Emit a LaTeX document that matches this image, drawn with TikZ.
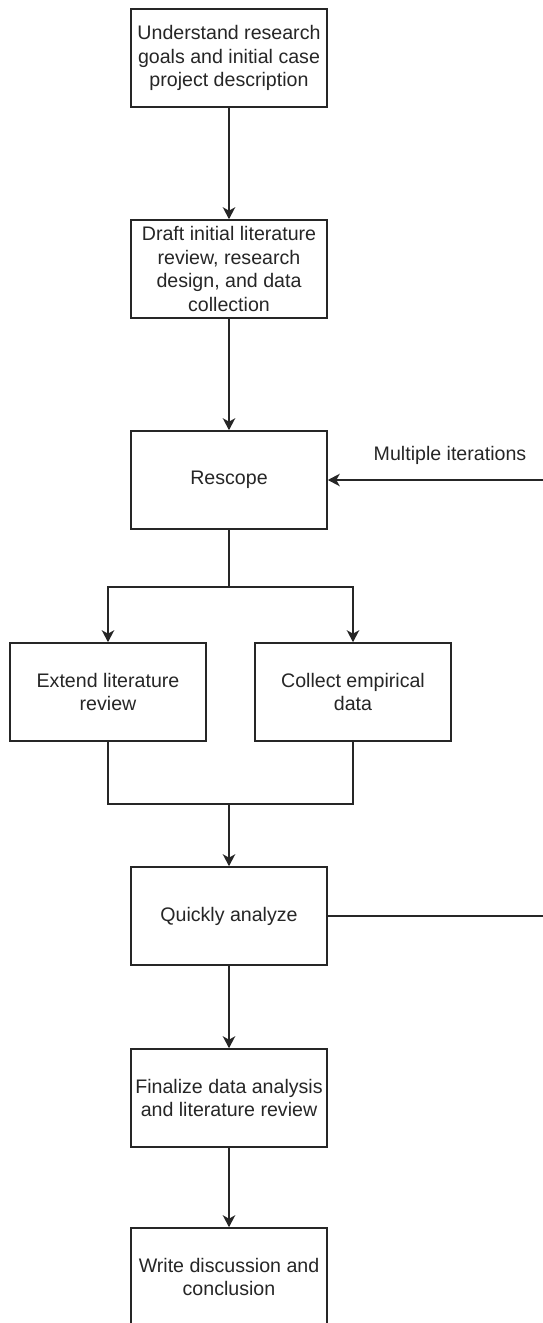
\documentclass[tikz,border=0pt]{standalone}
\usepackage{fontspec}
\setmainfont{Liberation Sans}
\usetikzlibrary{arrows.meta}
\begin{document}
\begin{tikzpicture}[x=1pt,y=-1pt,
  every node/.style={font=\fontsize{19.6}{23.5}\selectfont, text=black!85},
  stepbox/.style={draw=black!85, line width=1.6pt, fill=white,
    minimum width=196pt, minimum height=98pt, inner sep=0pt, align=center},
  link/.style={draw=black!85, line width=1.6pt},
  arr/.style={link, -{Stealth[length=12pt,width=12.5pt,inset=3.5pt]}}]
  \useasboundingbox (0,0) rectangle (543,1323);

  % process steps
  \node[stepbox] (b1) at (229,58)  {Understand research\\goals and initial case\\project description};
  \node[stepbox] (b2) at (229,269) {Draft initial literature\\review, research\\design, and data\\collection};
  \node[stepbox] (b3) at (229,480) {Rescope};
  \node[stepbox] (b4) at (108,692) {Extend literature\\review};
  \node[stepbox] (b5) at (353,692) {Collect empirical\\data};
  \node[stepbox] (b6) at (229,916) {Quickly analyze};
  \node[stepbox] (b7) at (229,1098) {Finalize data analysis\\and literature review};
  \node[stepbox] (b8) at (229,1277) {Write discussion and\\conclusion};

  % branch and merge points
  \coordinate (split) at (229,587);
  \coordinate (merge) at (229,804);
  \coordinate (loopX) at (548,700);

  \draw[arr] (b1) -- (b2);
  \draw[arr] (b2) -- (b3);
  \draw[link] (b3.south) -- (split);
  \draw[arr] (split) -| (b4.north);
  \draw[arr] (split) -| (b5.north);
  \draw[link] (b4.south) |- (merge);
  \draw[link] (b5.south) |- (merge);
  \draw[arr] (merge) -- (b6.north);
  \draw[arr] (b6) -- (b7);
  \draw[arr] (b7) -- (b8);

  % feedback loop back to rescoping
  \draw[arr] (b6.east) -| (loopX) |- (b3.east);
  \node (loopLabel) at (450,455) {Multiple iterations};
\end{tikzpicture}
\end{document}
